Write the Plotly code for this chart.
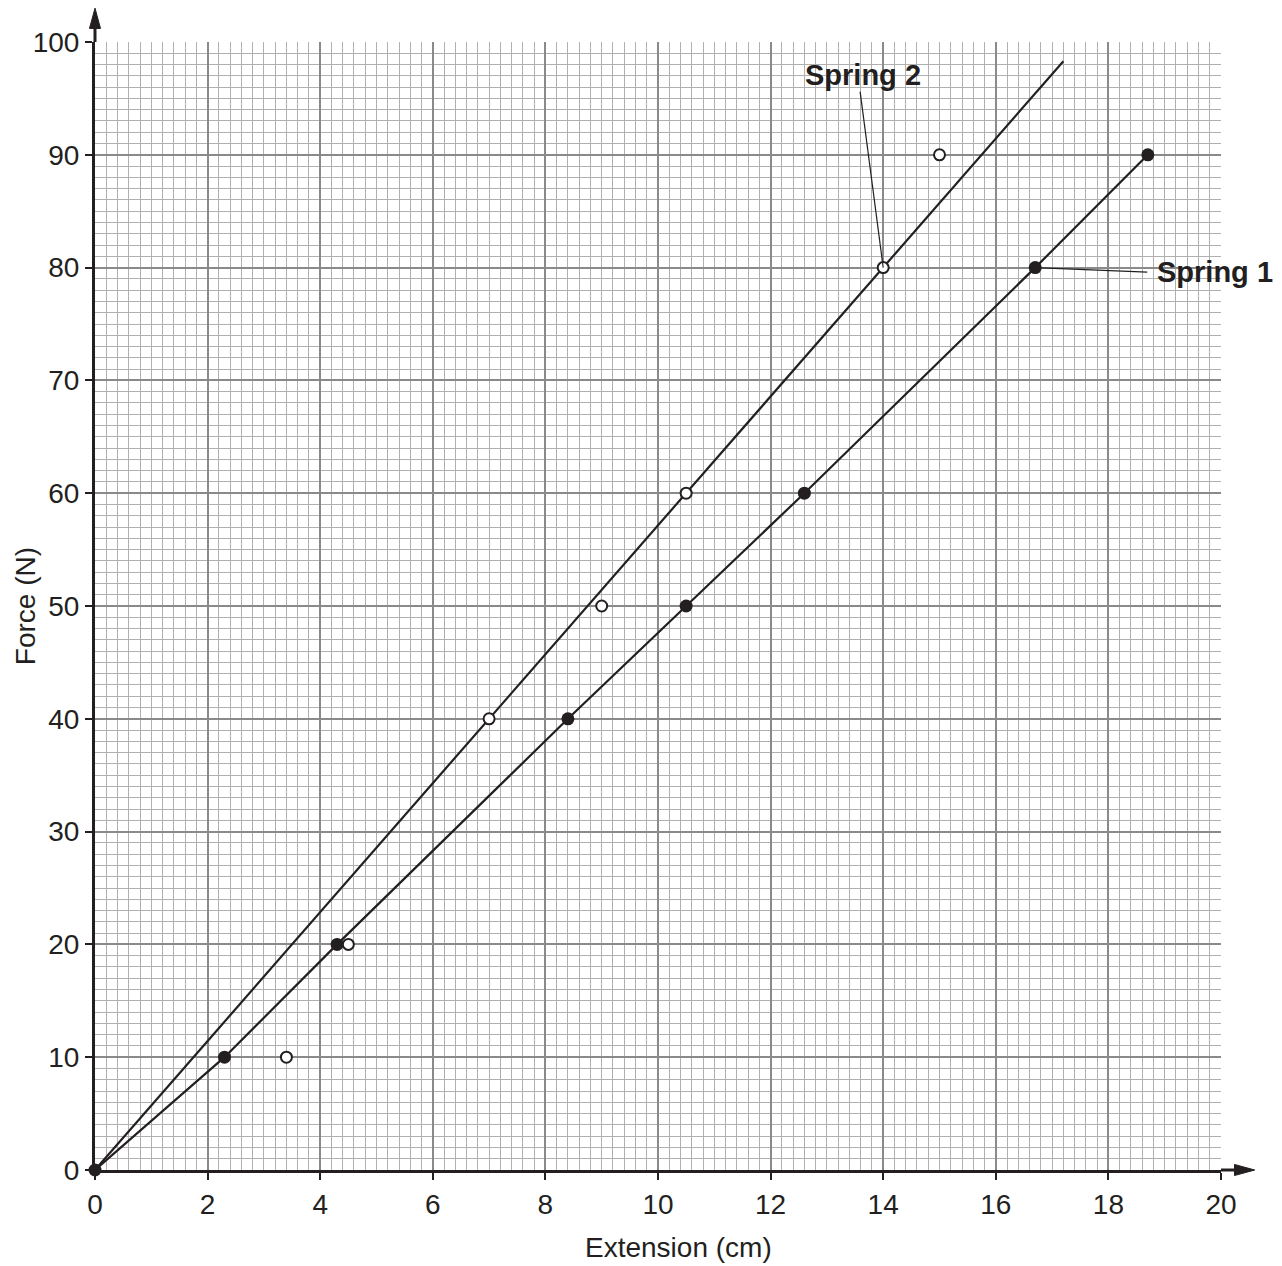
import plotly.graph_objects as go

# Spring 1 (filled points, joined)
s1_ext = [0, 2.3, 4.3, 8.4, 10.5, 12.6, 16.7, 18.7]
s1_force = [0, 10, 20, 40, 50, 60, 80, 90]

# Spring 2 (open points)
s2_ext = [3.4, 4.5, 7.0, 9.0, 10.5, 14.0, 15.0]
s2_force = [10, 20, 40, 50, 60, 80, 90]

# Spring 2 line of best fit
s2_fit_ext = [0, 17.2]
s2_fit_force = [0, 98.3]

INK = "#231f20"
FONT = "Liberation Sans, Arial, sans-serif"

fig = go.Figure()
fig.add_trace(go.Scatter(x=s2_fit_ext, y=s2_fit_force, mode="lines",
                         line=dict(color=INK, width=2.2), cliponaxis=False,
                         showlegend=False, hoverinfo="skip"))
fig.add_trace(go.Scatter(x=s1_ext, y=s1_force, mode="lines+markers",
                         line=dict(color=INK, width=2.2),
                         marker=dict(color=INK, size=13),
                         cliponaxis=False, showlegend=False, name="Spring 1"))
fig.add_trace(go.Scatter(x=s2_ext, y=s2_force, mode="markers",
                         marker=dict(color="white", size=11,
                                     line=dict(color=INK, width=2)),
                         cliponaxis=False, showlegend=False, name="Spring 2"))

axis_common = dict(
    showline=True, linecolor=INK, linewidth=3, mirror=False,
    ticks="outside", ticklen=7, tickwidth=2, tickcolor=INK,
    showgrid=True, gridcolor="#8a8a8a", gridwidth=1.5,
    zeroline=False, automargin=False,
    tickfont=dict(family=FONT, size=28, color=INK),
)

fig.update_xaxes(range=[0, 20], dtick=2, tick0=0,
                 minor=dict(dtick=0.2, showgrid=True, gridcolor="#b0b0b0", gridwidth=1),
                 **axis_common)
fig.update_yaxes(range=[0, 100], dtick=10, tick0=0,
                 minor=dict(dtick=1, showgrid=True, gridcolor="#b0b0b0", gridwidth=1),
                 **axis_common)

shapes = [
    # y axis extension + arrow
    dict(type="line", xref="paper", yref="paper", x0=0, x1=0, y0=1, y1=1.015,
         line=dict(color=INK, width=3)),
    dict(type="path", xref="paper", yref="paper",
         path="M -0.0049,1.012 L 0,1.030 L 0.0049,1.012 Z",
         fillcolor=INK, line=dict(color=INK, width=1)),
    # x axis extension + arrow
    dict(type="line", xref="paper", yref="paper", x0=1, x1=1.015, y0=0, y1=0,
         line=dict(color=INK, width=3)),
    dict(type="path", xref="paper", yref="paper",
         path="M 1.012,-0.0049 L 1.030,0 L 1.012,0.0049 Z",
         fillcolor=INK, line=dict(color=INK, width=1)),
    # leader lines
    dict(type="line", xref="x", yref="y", x0=14.0, y0=80, x1=13.59, y1=95.6,
         line=dict(color=INK, width=1.2)),
    dict(type="line", xref="x", yref="y", x0=16.7, y0=80, x1=18.69, y1=79.6,
         line=dict(color=INK, width=1.2)),
]

annotations = [
    dict(text="<b>Spring 2</b>", x=13.64, y=97.1, xref="x", yref="y",
         xanchor="center", yanchor="middle",
         showarrow=False, font=dict(family=FONT, size=29, color=INK)),
    dict(text="<b>Spring 1</b>", x=0.9414, y=0.796, xref="paper", yref="paper",
         xanchor="left", yanchor="middle",
         showarrow=False, font=dict(family=FONT, size=29, color=INK)),
    dict(text="Force (N)", x=-0.062, y=0.5, xref="paper", yref="paper",
         xanchor="center", yanchor="middle",
         textangle=-90, showarrow=False, font=dict(family=FONT, size=28, color=INK)),
    dict(text="Extension (cm)", x=0.518, y=-0.069, xref="paper", yref="paper",
         xanchor="center", yanchor="middle",
         showarrow=False, font=dict(family=FONT, size=28, color=INK)),
]

fig.update_layout(
    width=1282, height=1266,
    margin=dict(l=95, r=61, t=42, b=96, autoexpand=False),
    paper_bgcolor="white", plot_bgcolor="white",
    shapes=shapes, annotations=annotations,
    font=dict(family=FONT, color=INK),
)

fig.write_html(
    "out.html",
    config={"displayModeBar": False},
    post_script="document.body.style.margin='0';document.body.style.overflow='hidden';",
)
